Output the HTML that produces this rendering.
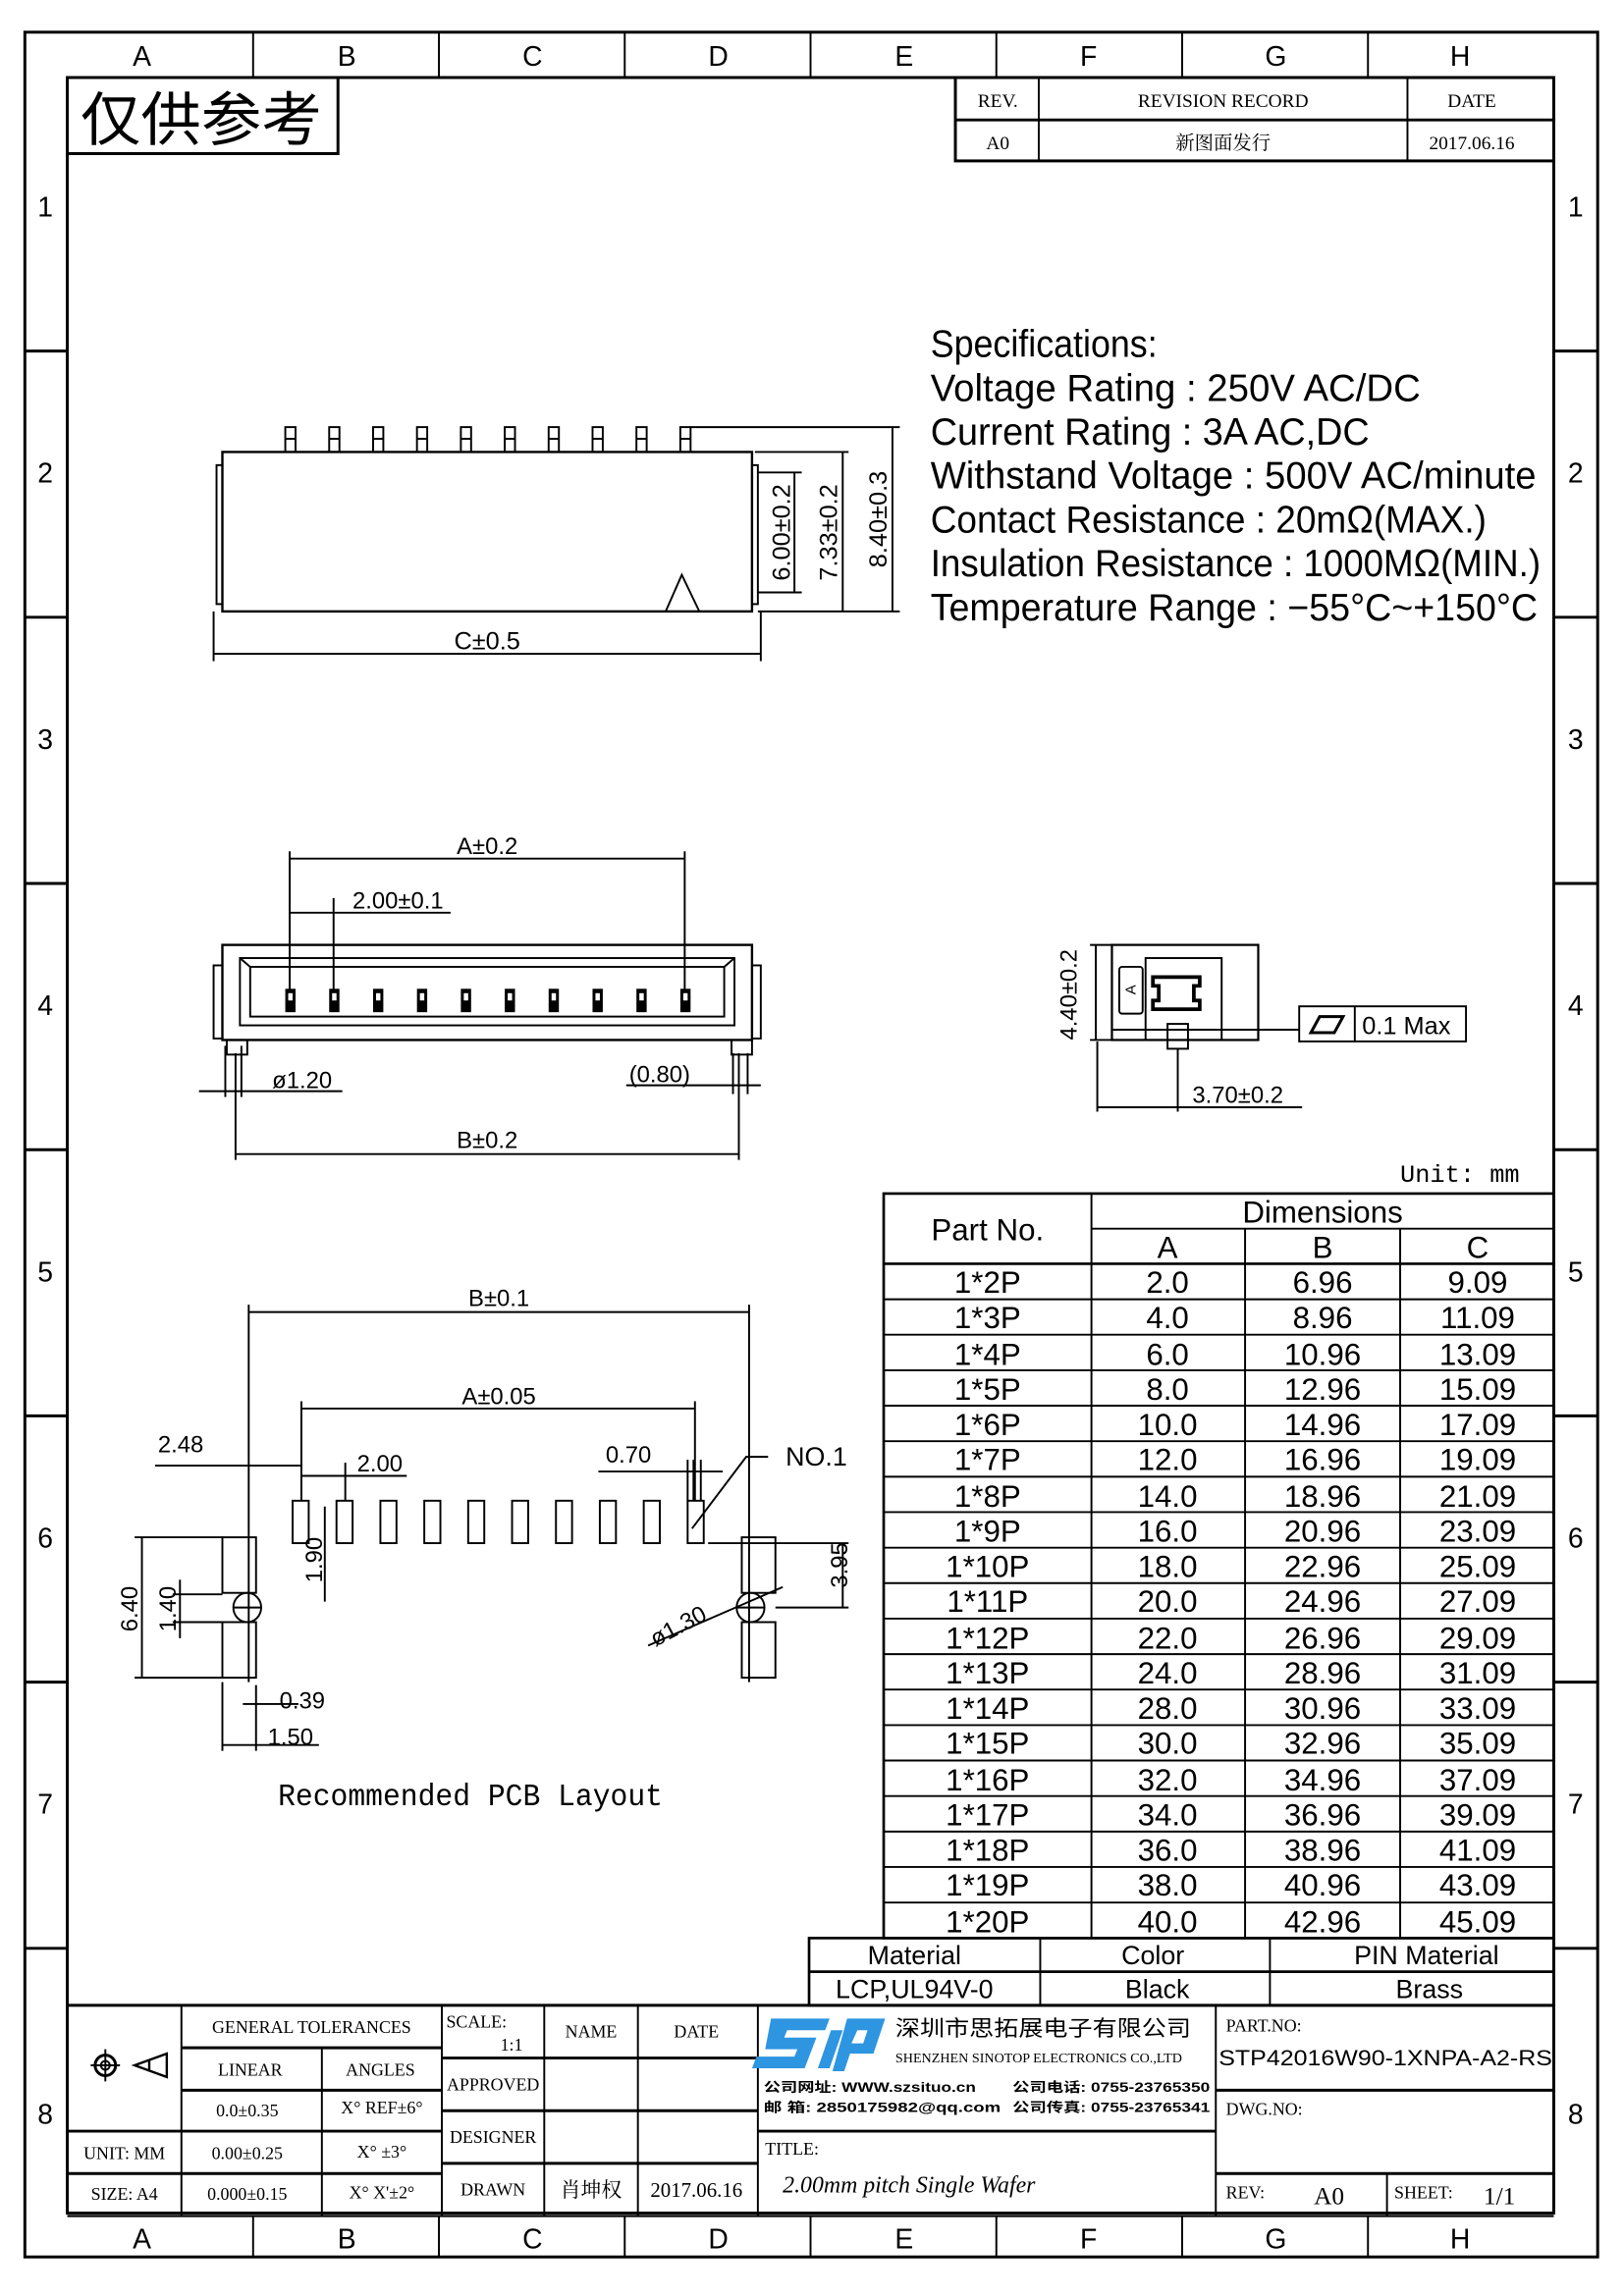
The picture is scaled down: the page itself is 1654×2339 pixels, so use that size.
<!DOCTYPE html>
<html><head><meta charset="utf-8"><style>
html,body{margin:0;padding:0;background:#fff}
svg{display:block}
text{font-family:"Liberation Sans Narrow","Liberation Sans","Noto Sans CJK SC",sans-serif;fill:#000}
.s,.s text{font-family:"Liberation Serif","Noto Serif CJK SC",serif}
.m{font-family:"Liberation Mono",monospace}
</style></head><body>
<svg width="1654" height="2339" viewBox="0 0 1110 1569.7" xmlns="http://www.w3.org/2000/svg">
<rect width="1110" height="1570" fill="#fff"/>
<g fill="none" stroke="#000">
<rect x="17" y="22" width="1075" height="1521" stroke-width="2"/>
<rect x="46" y="53" width="1016" height="1460" stroke-width="2"/>
<line x1="46" y1="1515" x2="1062" y2="1515" stroke-width="1.5"/>
<g stroke-width="1.3">
<line x1="173" y1="22" x2="173" y2="53"/><line x1="300" y1="22" x2="300" y2="53"/><line x1="427" y1="22" x2="427" y2="53"/><line x1="554" y1="22" x2="554" y2="53"/><line x1="681" y1="22" x2="681" y2="53"/><line x1="808" y1="22" x2="808" y2="53"/><line x1="935" y1="22" x2="935" y2="53"/>
<line x1="173" y1="1515" x2="173" y2="1543"/><line x1="300" y1="1515" x2="300" y2="1543"/><line x1="427" y1="1515" x2="427" y2="1543"/><line x1="554" y1="1515" x2="554" y2="1543"/><line x1="681" y1="1515" x2="681" y2="1543"/><line x1="808" y1="1515" x2="808" y2="1543"/><line x1="935" y1="1515" x2="935" y2="1543"/>
</g>
<g stroke-width="2">
<line x1="17" y1="240" x2="46" y2="240"/><line x1="17" y1="422" x2="46" y2="422"/><line x1="17" y1="604" x2="46" y2="604"/><line x1="17" y1="786" x2="46" y2="786"/><line x1="17" y1="968" x2="46" y2="968"/><line x1="17" y1="1150" x2="46" y2="1150"/><line x1="17" y1="1332" x2="46" y2="1332"/>
<line x1="1062" y1="240" x2="1092" y2="240"/><line x1="1062" y1="422" x2="1092" y2="422"/><line x1="1062" y1="604" x2="1092" y2="604"/><line x1="1062" y1="786" x2="1092" y2="786"/><line x1="1062" y1="968" x2="1092" y2="968"/><line x1="1062" y1="1150" x2="1092" y2="1150"/><line x1="1062" y1="1332" x2="1092" y2="1332"/>
</g>
<polyline points="46,105 231,105 231,53" stroke-width="2"/>
<rect x="653" y="53" width="409" height="57" stroke-width="2"/>
<line x1="653" y1="82" x2="1062" y2="82" stroke-width="2"/>
<line x1="710" y1="53" x2="710" y2="110" stroke-width="1.3"/><line x1="962" y1="53" x2="962" y2="110" stroke-width="1.3"/>
</g>
<g font-size="19" text-anchor="middle">
<text x="97" y="45">A</text><text x="237" y="45">B</text><text x="364" y="45">C</text><text x="491" y="45">D</text><text x="618" y="45">E</text><text x="744" y="45">F</text><text x="872" y="45">G</text><text x="998" y="45">H</text>
<text x="97" y="1537">A</text><text x="237" y="1537">B</text><text x="364" y="1537">C</text><text x="491" y="1537">D</text><text x="618" y="1537">E</text><text x="744" y="1537">F</text><text x="872" y="1537">G</text><text x="998" y="1537">H</text>
<text x="31" y="148">1</text><text x="31" y="330">2</text><text x="31" y="512">3</text><text x="31" y="694">4</text><text x="31" y="876">5</text><text x="31" y="1058">6</text><text x="31" y="1240">7</text><text x="31" y="1452">8</text>
<text x="1077" y="148">1</text><text x="1077" y="330">2</text><text x="1077" y="512">3</text><text x="1077" y="694">4</text><text x="1077" y="876">5</text><text x="1077" y="1058">6</text><text x="1077" y="1240">7</text><text x="1077" y="1452">8</text>
</g>
<text x="55" y="96" font-size="40" style="font-family:'Noto Sans CJK SC',sans-serif" textLength="165" lengthAdjust="spacingAndGlyphs">仅供参考</text>
<g class="s" font-size="13" text-anchor="middle">
<text x="682" y="73">REV.</text><text x="836" y="73">REVISION RECORD</text><text x="1006" y="73">DATE</text>
<text x="682" y="102">A0</text><text x="836" y="102" style="font-family:'Noto Serif CJK SC',serif">新图面发行</text><text x="1006" y="102">2017.06.16</text>
</g>
<g font-size="26">
<text x="636" y="244" textLength="155" lengthAdjust="spacingAndGlyphs">Specifications:</text>
<text x="636" y="274" textLength="335" lengthAdjust="spacingAndGlyphs">Voltage  Rating  :  250V  AC/DC</text>
<text x="636" y="304" textLength="300" lengthAdjust="spacingAndGlyphs">Current  Rating  :  3A  AC,DC</text>
<text x="636" y="334" textLength="414" lengthAdjust="spacingAndGlyphs">Withstand  Voltage  :  500V  AC/minute</text>
<text x="636" y="364" textLength="380" lengthAdjust="spacingAndGlyphs">Contact  Resistance  :  20mΩ(MAX.)</text>
<text x="636" y="394" textLength="417" lengthAdjust="spacingAndGlyphs">Insulation  Resistance  :  1000MΩ(MIN.)</text>
<text x="636" y="424" textLength="415" lengthAdjust="spacingAndGlyphs">Temperature  Range  :  −55°C~+150°C</text>
</g>
<g fill="none" stroke="#000" stroke-width="1.3">
<rect x="152" y="309" width="362" height="109" stroke-width="1.6"/>
<rect x="148" y="318" width="4" height="95"/><rect x="514" y="318" width="4" height="95"/>
<g id="pin"><rect x="195" y="292" width="7" height="17"/><line x1="195" y1="300" x2="202" y2="300"/></g>
<use href="#pin" x="30"/><use href="#pin" x="60"/><use href="#pin" x="90"/><use href="#pin" x="120"/><use href="#pin" x="150"/><use href="#pin" x="180"/><use href="#pin" x="210"/><use href="#pin" x="240"/><use href="#pin" x="270"/>
<polyline points="455,418 466,393 478,418"/>
<line x1="472" y1="292" x2="615" y2="292"/><line x1="516" y1="309" x2="580" y2="309"/><line x1="518" y1="418" x2="615" y2="418"/>
<line x1="518" y1="323" x2="548" y2="323"/><line x1="518" y1="405" x2="548" y2="405"/>
<line x1="543" y1="323" x2="543" y2="405"/><line x1="576" y1="309" x2="576" y2="418"/><line x1="610" y1="292" x2="610" y2="418"/>
<line x1="146" y1="418" x2="146" y2="452"/><line x1="520" y1="418" x2="520" y2="452"/>
<line x1="146" y1="447" x2="520" y2="447"/>
</g>
<g font-size="17">
<text x="333" y="444" text-anchor="middle">C±0.5</text>
<text transform="translate(540,364) rotate(-90)" text-anchor="middle">6.00±0.2</text>
<text transform="translate(572,364) rotate(-90)" text-anchor="middle">7.33±0.2</text>
<text transform="translate(606,355) rotate(-90)" text-anchor="middle">8.40±0.3</text>
</g>
<g fill="none" stroke="#000" stroke-width="1.3">
<rect x="152" y="646" width="362" height="65" stroke-width="1.6"/>
<rect x="164" y="655" width="338" height="46"/>
<rect x="171" y="661" width="324" height="34"/>
<line x1="164" y1="655" x2="171" y2="661"/><line x1="502" y1="655" x2="495" y2="661"/>
<rect x="146" y="660" width="6" height="50"/><rect x="514" y="660" width="6" height="50"/>
<rect x="155" y="711" width="14" height="10"/><rect x="500" y="711" width="14" height="10"/>
<line x1="198" y1="582" x2="198" y2="690"/><line x1="468" y1="582" x2="468" y2="690"/>
<line x1="198" y1="587" x2="468" y2="587"/>
<line x1="228" y1="614" x2="228" y2="690"/><line x1="198" y1="624" x2="308" y2="624"/>
<line x1="154" y1="715" x2="154" y2="750"/><line x1="165" y1="715" x2="165" y2="750"/>
<line x1="136" y1="746" x2="234" y2="746"/>
<line x1="161" y1="720" x2="161" y2="793"/><line x1="505" y1="720" x2="505" y2="793"/>
<line x1="161" y1="789" x2="505" y2="789"/>
<line x1="501" y1="720" x2="501" y2="748"/><line x1="511" y1="720" x2="511" y2="748"/>
<line x1="428" y1="742" x2="520" y2="742"/>
</g>
<g id="fp" fill="#000"><rect x="195" y="676" width="7" height="16"/><rect x="197" y="679" width="3" height="5" fill="#fff"/></g>
<use href="#fp" x="30"/><use href="#fp" x="60"/><use href="#fp" x="90"/><use href="#fp" x="120"/><use href="#fp" x="150"/><use href="#fp" x="180"/><use href="#fp" x="210"/><use href="#fp" x="240"/><use href="#fp" x="270"/>
<g font-size="16">
<text x="333" y="584" text-anchor="middle">A±0.2</text>
<text x="272" y="621" text-anchor="middle">2.00±0.1</text>
<text x="186" y="744">ø1.20</text>
<text x="430" y="740">(0.80)</text>
<text x="333" y="785" text-anchor="middle">B±0.2</text>
</g>
<g fill="none" stroke="#000" stroke-width="1.3">
<rect x="760" y="646" width="100" height="65" stroke-width="1.5"/>
<rect x="765" y="661" width="16" height="32" rx="2"/>
<rect x="783" y="655" width="52" height="56"/>
<path d="M788,668 h32 v6 h-4 v10 h4 v6 h-32 v-6 h4 v-10 h-4 z" stroke-width="2.5"/>
<rect x="798" y="700" width="14" height="17"/>
<line x1="760" y1="704" x2="888" y2="704"/>
<rect x="888" y="688" width="114" height="24"/>
<line x1="926" y1="688" x2="926" y2="712"/>
<path d="M896,706 l6,-11 h16 l-6,11 z" stroke-width="2"/>
<line x1="745" y1="646" x2="760" y2="646"/><line x1="745" y1="711" x2="760" y2="711"/>
<line x1="749" y1="646" x2="749" y2="711"/>
<line x1="750" y1="712" x2="750" y2="760"/><line x1="805" y1="717" x2="805" y2="760"/>
<line x1="750" y1="757" x2="890" y2="757"/>
</g>
<text x="931" y="707" font-size="17">0.1  Max</text>
<text x="774" y="682" font-size="10" transform="rotate(-90 774 680)">A</text>
<text font-size="16" transform="translate(736,680) rotate(-90)" text-anchor="middle">4.40±0.2</text>
<text x="815" y="754" font-size="16">3.70±0.2</text>
<g fill="none" stroke="#000" stroke-width="1.3">
<line x1="170" y1="892" x2="170" y2="1150"/><line x1="512" y1="892" x2="512" y2="1150"/>
<line x1="170" y1="897" x2="512" y2="897"/>
<line x1="206" y1="958" x2="206" y2="1026"/><line x1="475" y1="958" x2="475" y2="1026"/>
<line x1="206" y1="963" x2="475" y2="963"/>
<line x1="106" y1="1002" x2="206" y2="1002"/>
<line x1="206" y1="1009" x2="278" y2="1009"/><line x1="236" y1="1000" x2="236" y2="1026"/>
<line x1="409" y1="1006" x2="494" y2="1006"/><line x1="470" y1="998" x2="470" y2="1026"/><line x1="474" y1="998" x2="474" y2="1026"/><line x1="479" y1="998" x2="479" y2="1026"/>
<rect x="200" y="1026" width="11" height="29"/><rect x="230" y="1026" width="11" height="29"/><rect x="260" y="1026" width="11" height="29"/><rect x="290" y="1026" width="11" height="29"/><rect x="320" y="1026" width="11" height="29"/><rect x="350" y="1026" width="11" height="29"/><rect x="380" y="1026" width="11" height="29"/><rect x="410" y="1026" width="11" height="29"/><rect x="440" y="1026" width="11" height="29"/><rect x="470" y="1026" width="11" height="29"/>
<line x1="222" y1="1030" x2="222" y2="1095"/>
<rect x="152" y="1051" width="23" height="38"/><rect x="152" y="1109" width="23" height="38"/>
<rect x="507" y="1051" width="23" height="38"/><rect x="507" y="1109" width="23" height="38"/>
<ellipse cx="169" cy="1099" rx="9.5" ry="10"/><line x1="159" y1="1099" x2="179" y2="1099"/>
<ellipse cx="513" cy="1099" rx="9.5" ry="10"/><line x1="503" y1="1099" x2="523" y2="1099"/>
<line x1="92" y1="1051" x2="152" y2="1051"/><line x1="92" y1="1147" x2="152" y2="1147"/><line x1="97" y1="1051" x2="97" y2="1147"/>
<line x1="118" y1="1090" x2="152" y2="1090"/><line x1="118" y1="1109" x2="152" y2="1109"/><line x1="123" y1="1080" x2="123" y2="1120"/>
<line x1="152" y1="1150" x2="152" y2="1197"/><line x1="175" y1="1152" x2="175" y2="1197"/>
<line x1="152" y1="1193" x2="218" y2="1193"/><line x1="166" y1="1165" x2="204" y2="1165"/>
<line x1="484" y1="1055" x2="580" y2="1055"/><line x1="530" y1="1099" x2="580" y2="1099"/><line x1="576" y1="1055" x2="576" y2="1099"/>
<line x1="443" y1="1125" x2="535" y2="1085"/>
<polyline points="473,1045 510,996 525,996"/>
</g>
<g font-size="16">
<text x="341" y="893" text-anchor="middle">B±0.1</text>
<text x="341" y="960" text-anchor="middle">A±0.05</text>
<text x="108" y="993">2.48</text>
<text x="244" y="1006">2.00</text>
<text x="414" y="1000">0.70</text>
<text x="537" y="1002" font-size="18">NO.1</text>
<text transform="translate(220,1082) rotate(-90)">1.90</text>
<text transform="translate(94,1100) rotate(-90)" text-anchor="middle">6.40</text>
<text transform="translate(120,1100) rotate(-90)" text-anchor="middle">1.40</text>
<text transform="translate(579,1070) rotate(-90)" text-anchor="middle">3.95</text>
<text transform="translate(448,1126) rotate(-28)">ø1.30</text>
<text x="191" y="1168">0.39</text>
<text x="183" y="1193">1.50</text>
</g>
<text x="190" y="1234" font-size="21" class="m" textLength="263" lengthAdjust="spacingAndGlyphs">Recommended PCB Layout</text>
<text x="957" y="808" font-size="17" class="m">Unit: mm</text>
<g fill="none" stroke="#000" stroke-width="1.3">
<rect x="604" y="816" width="458" height="509" stroke-width="1.8"/>
<line x1="746" y1="816" x2="746" y2="1325"/><line x1="851" y1="840" x2="851" y2="1325"/><line x1="957" y1="840" x2="957" y2="1325"/>
<line x1="746" y1="840" x2="1062" y2="840"/><line x1="604" y1="864" x2="1062" y2="864" stroke-width="1.8"/>
<line x1="604" y1="888.3" x2="1062" y2="888.3"/><line x1="604" y1="912.5" x2="1062" y2="912.5"/><line x1="604" y1="936.8" x2="1062" y2="936.8"/><line x1="604" y1="961" x2="1062" y2="961"/><line x1="604" y1="985.3" x2="1062" y2="985.3"/><line x1="604" y1="1009.6" x2="1062" y2="1009.6"/><line x1="604" y1="1033.8" x2="1062" y2="1033.8"/><line x1="604" y1="1058.1" x2="1062" y2="1058.1"/><line x1="604" y1="1082.3" x2="1062" y2="1082.3"/><line x1="604" y1="1106.6" x2="1062" y2="1106.6"/><line x1="604" y1="1130.9" x2="1062" y2="1130.9"/><line x1="604" y1="1155.1" x2="1062" y2="1155.1"/><line x1="604" y1="1179.4" x2="1062" y2="1179.4"/><line x1="604" y1="1203.6" x2="1062" y2="1203.6"/><line x1="604" y1="1227.9" x2="1062" y2="1227.9"/><line x1="604" y1="1252.2" x2="1062" y2="1252.2"/><line x1="604" y1="1276.4" x2="1062" y2="1276.4"/><line x1="604" y1="1300.7" x2="1062" y2="1300.7"/>
<rect x="553" y="1325" width="509" height="46" stroke-width="1.8"/>
<line x1="553" y1="1348" x2="1062" y2="1348" stroke-width="1.8"/>
<line x1="711" y1="1325" x2="711" y2="1371"/><line x1="868" y1="1325" x2="868" y2="1371"/>
</g>
<g font-size="21" text-anchor="middle">
<text x="675" y="848">Part  No.</text><text x="904" y="836">Dimensions</text>
<text x="798" y="860">A</text><text x="904" y="860">B</text><text x="1010" y="860">C</text>
</g>
<g font-size="21" text-anchor="middle">
<text x="675" y="884">1*2P</text><text x="798" y="884">2.0</text><text x="904" y="884">6.96</text><text x="1010" y="884">9.09</text>
<text x="675" y="908">1*3P</text><text x="798" y="908">4.0</text><text x="904" y="908">8.96</text><text x="1010" y="908">11.09</text>
<text x="675" y="933">1*4P</text><text x="798" y="933">6.0</text><text x="904" y="933">10.96</text><text x="1010" y="933">13.09</text>
<text x="675" y="957">1*5P</text><text x="798" y="957">8.0</text><text x="904" y="957">12.96</text><text x="1010" y="957">15.09</text>
<text x="675" y="981">1*6P</text><text x="798" y="981">10.0</text><text x="904" y="981">14.96</text><text x="1010" y="981">17.09</text>
<text x="675" y="1005">1*7P</text><text x="798" y="1005">12.0</text><text x="904" y="1005">16.96</text><text x="1010" y="1005">19.09</text>
<text x="675" y="1030">1*8P</text><text x="798" y="1030">14.0</text><text x="904" y="1030">18.96</text><text x="1010" y="1030">21.09</text>
<text x="675" y="1054">1*9P</text><text x="798" y="1054">16.0</text><text x="904" y="1054">20.96</text><text x="1010" y="1054">23.09</text>
<text x="675" y="1078">1*10P</text><text x="798" y="1078">18.0</text><text x="904" y="1078">22.96</text><text x="1010" y="1078">25.09</text>
<text x="675" y="1102">1*11P</text><text x="798" y="1102">20.0</text><text x="904" y="1102">24.96</text><text x="1010" y="1102">27.09</text>
<text x="675" y="1127">1*12P</text><text x="798" y="1127">22.0</text><text x="904" y="1127">26.96</text><text x="1010" y="1127">29.09</text>
<text x="675" y="1151">1*13P</text><text x="798" y="1151">24.0</text><text x="904" y="1151">28.96</text><text x="1010" y="1151">31.09</text>
<text x="675" y="1175">1*14P</text><text x="798" y="1175">28.0</text><text x="904" y="1175">30.96</text><text x="1010" y="1175">33.09</text>
<text x="675" y="1199">1*15P</text><text x="798" y="1199">30.0</text><text x="904" y="1199">32.96</text><text x="1010" y="1199">35.09</text>
<text x="675" y="1224">1*16P</text><text x="798" y="1224">32.0</text><text x="904" y="1224">34.96</text><text x="1010" y="1224">37.09</text>
<text x="675" y="1248">1*17P</text><text x="798" y="1248">34.0</text><text x="904" y="1248">36.96</text><text x="1010" y="1248">39.09</text>
<text x="675" y="1272">1*18P</text><text x="798" y="1272">36.0</text><text x="904" y="1272">38.96</text><text x="1010" y="1272">41.09</text>
<text x="675" y="1296">1*19P</text><text x="798" y="1296">38.0</text><text x="904" y="1296">40.96</text><text x="1010" y="1296">43.09</text>
<text x="675" y="1321">1*20P</text><text x="798" y="1321">40.0</text><text x="904" y="1321">42.96</text><text x="1010" y="1321">45.09</text>
</g>
<g font-size="18" text-anchor="middle">
<text x="625" y="1343">Material</text><text x="788" y="1343">Color</text><text x="975" y="1343">PIN  Material</text>
<text x="625" y="1366">LCP,UL94V-0</text><text x="791" y="1366">Black</text><text x="977" y="1366">Brass</text>
</g>
<g fill="none" stroke="#000" stroke-width="1.3">
<line x1="46" y1="1371" x2="1062" y2="1371" stroke-width="2"/>
<line x1="124" y1="1371" x2="124" y2="1515"/><line x1="302" y1="1371" x2="302" y2="1515"/><line x1="372" y1="1371" x2="372" y2="1515"/><line x1="436" y1="1371" x2="436" y2="1515"/><line x1="518" y1="1371" x2="518" y2="1515"/><line x1="831" y1="1371" x2="831" y2="1515"/>
<line x1="220" y1="1400" x2="220" y2="1515"/>
<line x1="124" y1="1400" x2="302" y2="1400" stroke-width="2"/><line x1="124" y1="1429" x2="302" y2="1429" stroke-width="2"/>
<line x1="46" y1="1457" x2="302" y2="1457" stroke-width="2"/><line x1="46" y1="1486" x2="302" y2="1486" stroke-width="2"/>
<line x1="302" y1="1407" x2="518" y2="1407" stroke-width="2"/><line x1="302" y1="1443" x2="518" y2="1443" stroke-width="2"/><line x1="302" y1="1479" x2="518" y2="1479" stroke-width="2"/>
<line x1="518" y1="1457" x2="831" y2="1457" stroke-width="2"/>
<line x1="831" y1="1429" x2="1062" y2="1429" stroke-width="2"/><line x1="831" y1="1486" x2="1062" y2="1486" stroke-width="2"/>
<line x1="948" y1="1486" x2="948" y2="1515"/>
<circle cx="72" cy="1412" r="7" stroke-width="2"/><circle cx="72" cy="1412" r="3"/><line x1="62" y1="1412" x2="82" y2="1412"/><line x1="72" y1="1401" x2="72" y2="1423"/>
<path d="M92,1412 L114,1404 L114,1420 Z M102,1408 v8" stroke-width="1.6"/>
</g>
<g class="s" font-size="12" text-anchor="middle">
<text x="213" y="1390">GENERAL TOLERANCES</text>
<text x="171" y="1419">LINEAR</text><text x="260" y="1419">ANGLES</text>
<text x="169" y="1447">0.0±0.35</text><text x="261" y="1445">X° REF±6°</text>
<text x="85" y="1476">UNIT: MM</text><text x="169" y="1476">0.00±0.25</text><text x="261" y="1475">X° ±3°</text>
<text x="85" y="1504">SIZE: A4</text><text x="169" y="1504">0.000±0.15</text><text x="261" y="1503">X° X'±2°</text>
<text x="404" y="1393">NAME</text><text x="476" y="1393">DATE</text>
<text x="337" y="1429">APPROVED</text><text x="337" y="1465">DESIGNER</text><text x="337" y="1501">DRAWN</text>
<text x="404" y="1502" font-size="14">肖坤权</text><text x="476" y="1502" font-size="14">2017.06.16</text>
</g>
<g class="s" font-size="12">
<text x="305" y="1386">SCALE:</text><text x="342" y="1402">1:1</text>
<text x="523" y="1473">TITLE:</text>
<text x="838" y="1389">PART.NO:</text>
<text x="838" y="1446">DWG.NO:</text>
<text x="838" y="1503">REV:</text><text x="898" y="1507" font-size="17">A0</text>
<text x="953" y="1503">SHEET:</text><text x="1014" y="1507" font-size="17">1/1</text>
<text x="535" y="1499" font-size="16" font-style="italic">2.00mm pitch Single Wafer</text>
</g>
<text x="833" y="1412" font-size="15" textLength="228" lengthAdjust="spacingAndGlyphs">STP42016W90-1XNPA-A2-RS</text>
<g fill="#2e95e0">
<path d="M527,1380 h40 l-3,8 h-26 l-2,5 h22 l-8,21 h-36 l3,-8 h26 l2,-5 h-22 z"/>
<path d="M568,1388 h8 l-9,26 h-8 z"/>
<path d="M579,1380 h26 l-8,24 h-16 l-4,12 h-8 z M586,1388 l-4,9 h8 l3,-9 z" fill-rule="evenodd"/>
</g>
<text x="612" y="1392" font-size="15" style="font-family:'Noto Sans CJK SC',sans-serif" textLength="202" lengthAdjust="spacingAndGlyphs">深圳市思拓展电子有限公司</text>
<text x="612" y="1410" font-size="9" class="s" textLength="196" lengthAdjust="spacingAndGlyphs">SHENZHEN SINOTOP ELECTRONICS CO.,LTD</text>
<g font-size="9" font-weight="bold">
<text x="522" y="1430" textLength="145" lengthAdjust="spacingAndGlyphs">公司网址: WWW.szsituo.cn</text>
<text x="522" y="1444" textLength="162" lengthAdjust="spacingAndGlyphs">邮    箱: 2850175982@qq.com</text>
<text x="692" y="1430" textLength="135" lengthAdjust="spacingAndGlyphs">公司电话: 0755-23765350</text>
<text x="692" y="1444" textLength="135" lengthAdjust="spacingAndGlyphs">公司传真: 0755-23765341</text>
</g>
</svg>
</body></html>
